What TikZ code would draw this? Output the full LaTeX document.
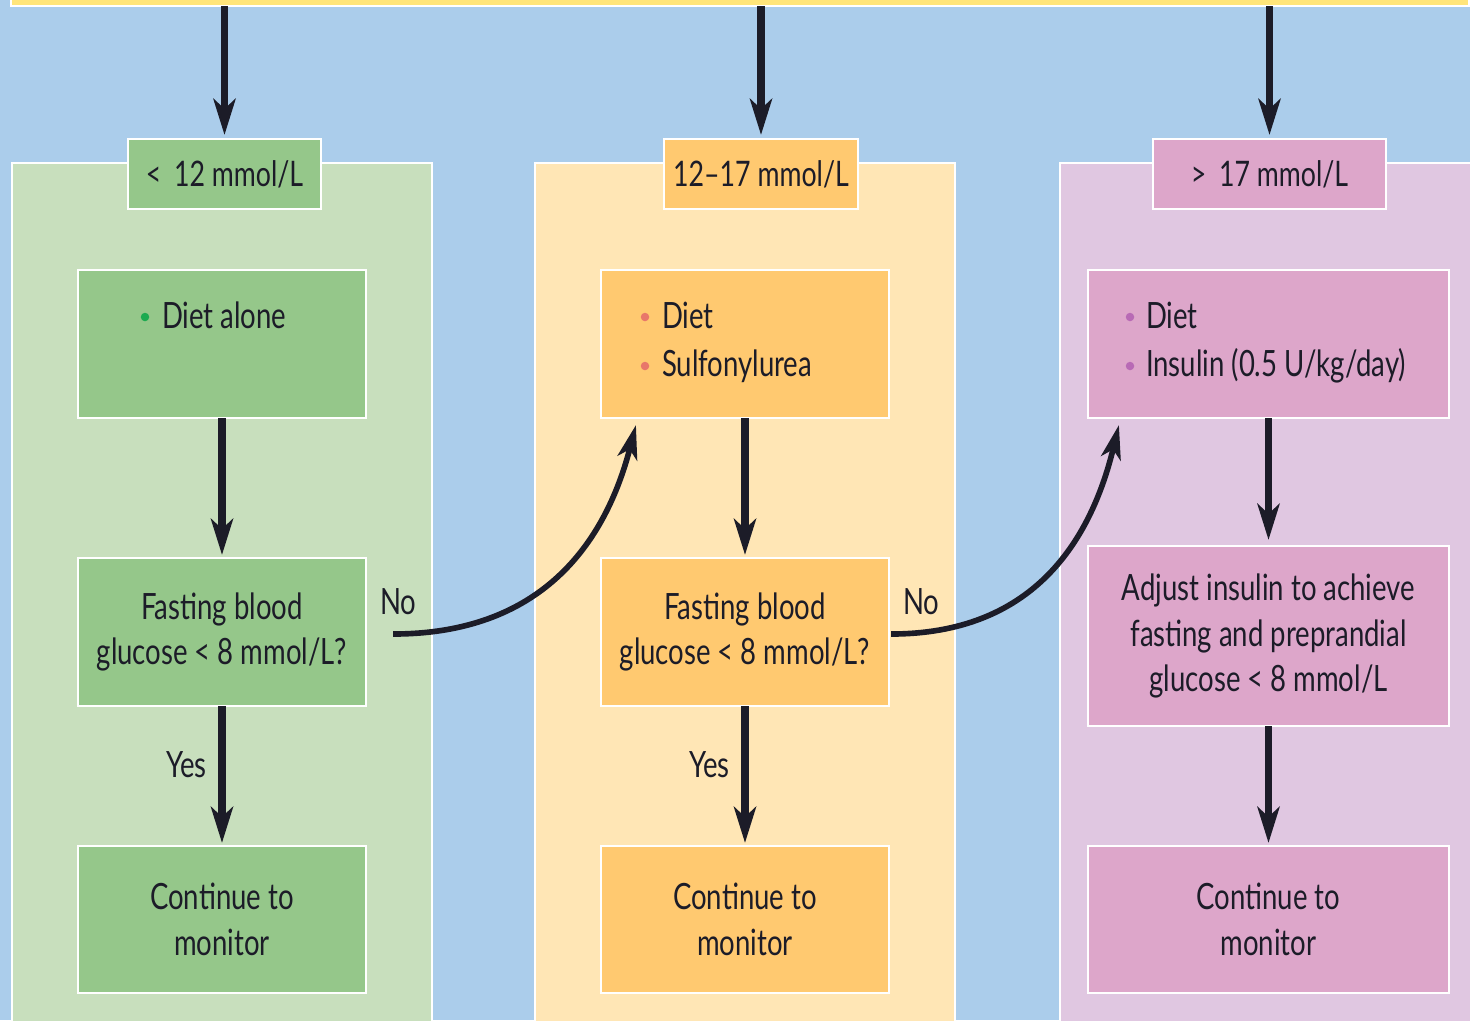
\documentclass[tikz,border=0pt]{standalone}
\usepackage{fontspec}
\setmainfont{Lato}[FakeStretch=0.76]
\usetikzlibrary{arrows.meta,calc}

\definecolor{bgblue}{HTML}{ABCDEB}
\definecolor{ystrip}{HTML}{FFE57A}
\definecolor{gpanel}{HTML}{C8DFBD}
\definecolor{gbox}{HTML}{95C78A}
\definecolor{gdot}{HTML}{1DAA50}
\definecolor{opanel}{HTML}{FFE6B5}
\definecolor{obox}{HTML}{FFC970}
\definecolor{odot}{HTML}{E8776A}
\definecolor{ppanel}{HTML}{E0C7E1}
\definecolor{pbox}{HTML}{DDA6CA}
\definecolor{pdot}{HTML}{B86AB5}
\definecolor{ink}{HTML}{1C1C28}

\tikzset{
  panel/.style={draw=white, line width=0.5pt, inner sep=0, outer sep=0, anchor=north west},
  card/.style={draw=white, line width=0.7pt, inner sep=0, outer sep=0, align=center,
    text=ink, font=\fontsize{10.3}{13}\selectfont},
  hdr/.style={card, minimum height=0.70cm, font=\fontsize{10}{12}\selectfont},
  lbl/.style={inner sep=0, outer sep=0, anchor=base west, text=ink, font=\fontsize{10.3}{13}\selectfont},
  dot/.style={circle, inner sep=0, minimum size=0.085cm},
  arr/.style={draw=ink, line width=2pt, -{Stealth[length=0.36cm,width=0.22cm,inset=0.1cm]}},
  carr/.style={draw=ink, line width=1.6pt, -{Stealth[length=0.34cm,width=0.2cm,inset=0.09cm]}},
}

\begin{document}
\begin{tikzpicture}[x=0.01cm, y=-0.01cm]
  \useasboundingbox (0,0) rectangle (1470,1020);
  \fill[bgblue] (0,0) rectangle (1470,1020);

  % strip along the top
  \node[panel, fill=ystrip, anchor=south west, minimum width=14.57cm, minimum height=0.3cm] (ys) at (11,6) {};

  % three column panels
  \node[panel, fill=gpanel, minimum width=4.20cm, minimum height=8.8cm] (gp) at (12,163) {};
  \node[panel, fill=opanel, minimum width=4.20cm, minimum height=8.8cm] (op) at (535,163) {};
  \node[panel, fill=ppanel, minimum width=4.30cm, minimum height=8.8cm] (pp) at (1060,163) {};

  % column headers
  \node[hdr, fill=gbox, minimum width=1.93cm] (gh) at (224.5,174) {<\, 12 mmol/L};
  \node[hdr, fill=obox, minimum width=1.94cm] (oh) at (761,174) {12–17 mmol/L};
  \node[hdr, fill=pbox, minimum width=2.33cm] (ph) at (1269.5,174) {>\, 17 mmol/L};

  % green column
  \node[card, fill=gbox, minimum width=2.88cm, minimum height=1.48cm] (g1) at (222,344) {};
  \node[card, fill=gbox, minimum width=2.88cm, minimum height=1.48cm] (g2) at (222,632) {Fasting blood\\glucose < 8 mmol/L?};
  \node[card, fill=gbox, minimum width=2.88cm, minimum height=1.47cm] (g3) at (222,919.5) {Continue to\\monitor};

  % orange column
  \node[card, fill=obox, minimum width=2.88cm, minimum height=1.48cm] (o1) at (745,344) {};
  \node[card, fill=obox, minimum width=2.88cm, minimum height=1.48cm] (o2) at (745,632) {Fasting blood\\glucose < 8 mmol/L?};
  \node[card, fill=obox, minimum width=2.88cm, minimum height=1.47cm] (o3) at (745,919.5) {Continue to\\monitor};

  % pink column
  \node[card, fill=pbox, minimum width=3.61cm, minimum height=1.48cm] (p1) at (1268.5,344) {};
  \node[card, fill=pbox, minimum width=3.61cm, minimum height=1.80cm] (p2) at (1268.5,636) {Adjust insulin to achieve\\fasting and preprandial\\glucose < 8 mmol/L};
  \node[card, fill=pbox, minimum width=3.61cm, minimum height=1.47cm] (p3) at (1268.5,919.5) {Continue to\\monitor};

  % bullet lists
  \node[dot, fill=gdot] (gb1) at (145,317) {};
  \node[lbl] (gt1) at (162,328) {Diet alone};
  \node[dot, fill=odot] (ob1) at (645,317) {};
  \node[lbl] (ot1) at (662,328) {Diet};
  \node[dot, fill=odot] (ob2) at (645,366) {};
  \node[lbl] (ot2) at (662,376) {Sulfonylurea};
  \node[dot, fill=pdot] (pb1) at (1130,317) {};
  \node[lbl] (pt1) at (1146,328) {Diet};
  \node[dot, fill=pdot] (pb2) at (1130,366) {};
  \node[lbl] (pt2) at (1146,376) {Insulin (0.5 U/kg/day)};

  % arrows from the top strip
  \draw[arr, shorten >=0.04cm] (gh.north |- ys.south) -- (gh.north);
  \draw[arr, shorten >=0.04cm] (oh.north |- ys.south) -- (oh.north);
  \draw[arr, shorten >=0.04cm] (ph.north |- ys.south) -- (ph.north);

  % arrows down each column
  \draw[arr, shorten >=0.03cm] (g1) -- (g2);
  \draw[arr, shorten >=0.03cm] (g2) -- (g3);
  \draw[arr, shorten >=0.03cm] (o1) -- (o2);
  \draw[arr, shorten >=0.03cm] (o2) -- (o3);
  \draw[arr, shorten >=0.06cm] (p1) -- (p2);
  \draw[arr, shorten >=0.03cm] (p2) -- (p3);

  % answer labels
  \node[lbl] (gyes) at (166,777) {Yes};
  \node[lbl] (oyes) at (689,777) {Yes};
  \node[lbl] (gno) at (380,614) {No};
  \node[lbl] (ono) at (903,614) {No};

  % escalation to the next column
  \coordinate (gstart) at ($(g2.east)+(27,2)$);
  \coordinate (oend) at ($(o1.south west)+(35,7)$);
  \draw[carr] (gstart) .. controls +(147,0) and +(-31,120) .. (oend);
  \coordinate (ostart) at ($(o2.east)+(2,2)$);
  \coordinate (pend) at ($(p1.south west)+(31,7)$);
  \draw[carr] (ostart) .. controls +(139,0) and +(-29,120) .. (pend);
\end{tikzpicture}
\end{document}
